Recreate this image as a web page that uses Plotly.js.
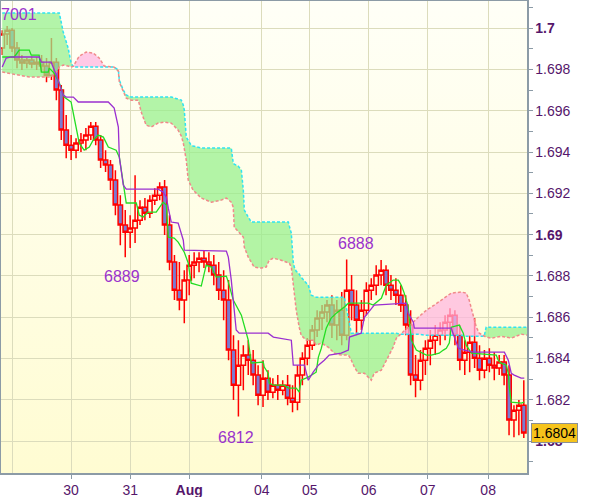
<!DOCTYPE html>
<html>
<head>
<meta charset="utf-8">
<script src="https://cdn.plot.ly/plotly-3.0.1.min.js"></script>
<style>
  html, body { margin: 0; padding: 0; background: #ffffff; }
  #chart { width: 600px; height: 497px; }
</style>
</head>
<body>
<div id="chart"></div>
<script>
// GBP/USD, 2-hour candles with Ichimoku lines.
// Time axis is in hours counted from the start of the window (late 29 Jul).

const open = [1.69903,1.69971,1.69990,1.69903,1.69845,1.69831,1.69845,1.69826,1.69835,1.69816,
  1.69772,1.69835,1.69700,1.69506,1.69433,1.69409,1.69443,1.69458,1.69482,1.69525,
  1.69458,1.69361,1.69337,1.69264,1.69143,1.69046,1.69012,1.69032,1.69070,1.69133,
  1.69104,1.69167,1.69191,1.69230,1.69046,1.68867,1.68731,1.68683,1.68780,1.68852,
  1.68867,1.68886,1.68867,1.68852,1.68804,1.68731,1.68683,1.68441,1.68271,1.68368,
  1.68417,1.68392,1.68320,1.68223,1.68305,1.68237,1.68271,1.68247,1.68271,1.68208,
  1.68189,1.68320,1.68402,1.68465,1.68538,1.68596,1.68625,1.68659,1.68562,1.68634,
  1.68513,1.68731,1.68659,1.68586,1.68634,1.68731,1.68755,1.68804,1.68828,1.68755,
  1.68731,1.68707,1.68659,1.68562,1.68320,1.68295,1.68392,1.68450,1.68489,1.68513,
  1.68538,1.68576,1.68610,1.68513,1.68392,1.68431,1.68479,1.68402,1.68344,1.68402,
  1.68368,1.68354,1.68383,1.68320,1.68102,1.68150,1.68174];

const high = [1.69990,1.70010,1.70000,1.69932,1.69869,1.69855,1.69864,1.69860,1.69869,1.69855,
  1.69952,1.69855,1.69724,1.69579,1.69482,1.69467,1.69492,1.69516,1.69545,1.69545,
  1.69482,1.69409,1.69361,1.69312,1.69191,1.69119,1.69094,1.69288,1.69167,1.69177,
  1.69191,1.69225,1.69254,1.69264,1.69094,1.68901,1.68867,1.68828,1.68901,1.68915,
  1.68915,1.68925,1.68915,1.68901,1.68867,1.68828,1.68780,1.68513,1.68489,1.68465,
  1.68489,1.68441,1.68368,1.68392,1.68344,1.68305,1.68320,1.68295,1.68320,1.68271,
  1.68368,1.68431,1.68499,1.68562,1.68634,1.68659,1.68683,1.68707,1.68683,1.68722,
  1.68880,1.68804,1.68731,1.68683,1.68770,1.68789,1.68852,1.68877,1.68852,1.68804,
  1.68789,1.68755,1.68707,1.68634,1.68417,1.68441,1.68489,1.68538,1.68562,1.68576,
  1.68610,1.68644,1.68634,1.68562,1.68489,1.68513,1.68596,1.68465,1.68441,1.68450,
  1.68431,1.68417,1.68417,1.68368,1.68174,1.68199,1.68295];

const low = [1.69869,1.69918,1.69884,1.69806,1.69797,1.69806,1.69806,1.69797,1.69787,1.69738,
  1.69748,1.69651,1.69458,1.69370,1.69361,1.69370,1.69400,1.69409,1.69458,1.69433,
  1.69322,1.69303,1.69216,1.69094,1.68949,1.68890,1.68935,1.68959,1.69046,1.69070,
  1.69080,1.69143,1.69167,1.68998,1.68828,1.68683,1.68634,1.68571,1.68707,1.68789,
  1.68818,1.68838,1.68818,1.68755,1.68683,1.68586,1.68392,1.68199,1.68120,1.68247,
  1.68320,1.68271,1.68174,1.68165,1.68199,1.68208,1.68199,1.68223,1.68174,1.68140,
  1.68150,1.68271,1.68368,1.68441,1.68504,1.68538,1.68576,1.68499,1.68489,1.68465,
  1.68489,1.68586,1.68513,1.68538,1.68610,1.68683,1.68707,1.68755,1.68707,1.68683,
  1.68659,1.68625,1.68513,1.68271,1.68213,1.68247,1.68320,1.68368,1.68417,1.68465,
  1.68489,1.68513,1.68465,1.68344,1.68320,1.68334,1.68354,1.68295,1.68305,1.68334,
  1.68295,1.68320,1.68271,1.68029,1.68019,1.68029,1.68015];

const close = [1.69971,1.69990,1.69903,1.69845,1.69831,1.69845,1.69826,1.69835,1.69816,1.69772,
  1.69835,1.69700,1.69506,1.69433,1.69409,1.69443,1.69458,1.69482,1.69525,1.69458,
  1.69361,1.69337,1.69264,1.69143,1.69046,1.69012,1.69032,1.69070,1.69133,1.69104,
  1.69167,1.69191,1.69230,1.69046,1.68867,1.68731,1.68683,1.68780,1.68852,1.68867,
  1.68886,1.68867,1.68852,1.68804,1.68731,1.68683,1.68441,1.68271,1.68368,1.68417,
  1.68392,1.68320,1.68223,1.68305,1.68237,1.68271,1.68247,1.68271,1.68208,1.68189,
  1.68320,1.68402,1.68465,1.68538,1.68596,1.68625,1.68659,1.68562,1.68634,1.68513,
  1.68731,1.68659,1.68586,1.68634,1.68731,1.68755,1.68804,1.68828,1.68755,1.68731,
  1.68707,1.68659,1.68562,1.68320,1.68295,1.68392,1.68450,1.68489,1.68513,1.68538,
  1.68576,1.68610,1.68513,1.68392,1.68431,1.68479,1.68402,1.68344,1.68402,1.68368,
  1.68354,1.68383,1.68320,1.68102,1.68150,1.68174,1.68040];

// one candle every two hours
const barHours = close.map((_, i) => i * 2);

// Tenkan-sen (conversion line)
const tenkanHours = [0,4.9,6.9,11.0,11.8,15.0,15.9,18.7,19.1,21.1,23.2,25.2,28.0,31.3,33.3,35.4,37.0,39.0,41.1,43.1,
  46.3,47.6,49.2,50.4,54.5,55.7,57.3,59.3,62.6,65.4,66.7,67.5,69.9,71.5,74.0,75.6,76.8,80.9,82.9,85.0,
  87.0,91.1,91.9,93.9,97.2,100.0,101.2,106.1,106.5,108.1,108.5,110.2,114.6,116.3,119.5,120.7,121.5,124.4,127.6,128.5,
  129.7,131.7,133.7,135.8,139.0,140.7,148.8,150.8,154.1,156.1,158.9,161.0,162.2,163.4,165.0,166.3,168.3,172.4,174.4,177.6,
  179.3,180.5,181.7,182.5,185.8,187.4,188.6,190.7,200.8,201.6,202.8,204.9,205.7,206.1,206.9,211.0,212.2];
const tenkan = [1.69860,1.69860,1.69893,1.69893,1.69869,1.69869,1.69787,1.69787,1.69806,1.69782,1.69734,1.69666,1.69642,1.69443,1.69409,1.69424,1.69458,1.69482,1.69472,1.69424,
  1.69409,1.69375,1.69249,1.69153,1.69153,1.69094,1.69085,1.69109,1.69109,1.69157,1.69143,1.68988,1.68983,1.68964,1.68915,1.68862,1.68765,1.68751,1.68852,1.68843,
  1.68794,1.68799,1.68770,1.68683,1.68610,1.68489,1.68378,1.68383,1.68359,1.68329,1.68281,1.68271,1.68271,1.68257,1.68257,1.68237,1.68295,1.68310,1.68334,1.68407,
  1.68450,1.68547,1.68596,1.68620,1.68649,1.68668,1.68668,1.68659,1.68692,1.68755,1.68780,1.68780,1.68755,1.68717,1.68649,1.68489,1.68441,1.68417,1.68417,1.68426,
  1.68441,1.68450,1.68475,1.68552,1.68562,1.68523,1.68465,1.68426,1.68417,1.68392,1.68378,1.68368,1.68329,1.68262,1.68189,1.68184,1.68189];

// Kijun-sen (base line)
const kijunHours = [0,1.6,3.7,15.0,15.9,19.9,22.0,24.8,26.0,28.9,30.9,43.1,45.5,47.2,47.6,48.4,49.2,50.4,63.4,65.4,
  66.7,67.5,68.7,71.5,73.6,74.0,91.1,91.9,93.1,95.1,96.3,108.1,110.2,117.5,118.3,122.8,124.4,126.4,128.5,130.9,
  132.9,137.8,140.7,141.1,145.9,147.2,150.0,151.2,164.2,165.0,167.1,167.5,182.5,183.7,185.4,187.8,191.5,204.1,205.7,206.9,
  208.1,210.9,212.2];
const kijun = [1.69811,1.69855,1.69860,1.69860,1.69835,1.69835,1.69772,1.69676,1.69666,1.69666,1.69642,1.69642,1.69613,1.69521,1.69375,1.69312,1.69240,1.69220,1.69220,1.69206,
  1.69182,1.69128,1.69061,1.69056,1.68973,1.68925,1.68920,1.68891,1.68780,1.68538,1.68523,1.68523,1.68504,1.68489,1.68368,1.68368,1.68295,1.68334,1.68368,1.68392,
  1.68417,1.68426,1.68441,1.68504,1.68523,1.68600,1.68644,1.68659,1.68668,1.68620,1.68576,1.68547,1.68547,1.68504,1.68450,1.68441,1.68431,1.68431,1.68392,1.68329,
  1.68320,1.68305,1.68305];

// Senkou spans A and B (already shifted forward), on a shared time grid
const cloudHours = [0,11.0,19.9,22.0,23.2,24.8,26.8,28.0,28.9,31.3,34.1,37.0,39.4,41.5,45.5,47.2,47.6,48.4,49.2,50.4,
  52.4,55.3,56.5,58.5,60.6,63.4,65.9,68.7,71.5,72.8,73.6,74.0,74.8,75.6,76.8,77.6,80.9,85.0,89.0,91.1,
  93.1,93.9,94.3,95.9,97.2,98.0,98.4,100.0,101.2,102.4,105.3,107.3,108.5,110.2,113.4,116.3,116.7,117.5,118.3,118.7,
  119.5,120.7,121.5,123.6,124.4,125.6,126.4,127.6,129.7,132.5,135.0,137.8,139.0,140.7,141.9,143.1,144.7,147.2,150.0,151.2,
  154.1,156.9,158.9,160.2,162.2,165.0,169.1,172.4,175.6,179.7,182.5,186.6,188.6,189.8,191.5,192.7,193.9,195.9,196.7,198.8,
  202.8,206.9,211.0,213.8];
const spanA = [1.70073,1.70073,1.70073,1.70073,1.70073,1.69981,1.69903,1.69831,1.69811,1.69811,1.69811,1.69811,1.69811,1.69811,1.69811,1.69797,1.69748,1.69724,1.69700,1.69676,
  1.69666,1.69666,1.69666,1.69666,1.69666,1.69666,1.69666,1.69666,1.69656,1.69651,1.69627,1.69603,1.69472,1.69458,1.69433,1.69429,1.69419,1.69419,1.69419,1.69419,
  1.69419,1.69346,1.69341,1.69332,1.69312,1.69215,1.69119,1.69085,1.69061,1.69061,1.69061,1.69061,1.69061,1.69061,1.69061,1.69061,1.69041,1.69007,1.68867,1.68843,
  1.68823,1.68809,1.68794,1.68765,1.68755,1.68707,1.68702,1.68697,1.68697,1.68697,1.68697,1.68697,1.68697,1.68596,1.68523,1.68523,1.68523,1.68523,1.68523,1.68523,
  1.68523,1.68523,1.68523,1.68523,1.68518,1.68518,1.68518,1.68513,1.68513,1.68513,1.68513,1.68513,1.68508,1.68508,1.68508,1.68508,1.68508,1.68508,1.68552,1.68552,
  1.68552,1.68552,1.68552,1.68552];
const spanB = [1.69787,1.69763,1.69763,1.69787,1.69811,1.69821,1.69816,1.69811,1.69816,1.69864,1.69884,1.69879,1.69855,1.69816,1.69811,1.69792,1.69738,1.69714,1.69690,1.69661,
  1.69651,1.69651,1.69593,1.69530,1.69521,1.69540,1.69545,1.69540,1.69506,1.69477,1.69443,1.69409,1.69361,1.69264,1.69230,1.69215,1.69177,1.69157,1.69167,1.69177,
  1.69157,1.69133,1.69036,1.69012,1.68998,1.68988,1.68939,1.68891,1.68867,1.68843,1.68838,1.68843,1.68876,1.68886,1.68876,1.68867,1.68862,1.68843,1.68765,1.68707,
  1.68634,1.68552,1.68513,1.68489,1.68489,1.68489,1.68489,1.68465,1.68475,1.68455,1.68426,1.68417,1.68417,1.68417,1.68392,1.68359,1.68329,1.68329,1.68295,1.68329,
  1.68344,1.68407,1.68455,1.68499,1.68523,1.68552,1.68600,1.68634,1.68659,1.68692,1.68717,1.68722,1.68717,1.68683,1.68600,1.68552,1.68523,1.68508,1.68504,1.68499,
  1.68508,1.68499,1.68518,1.68513];

// Day ticks on the time axis
const dayHours = [28, 52, 76, 105.5, 125, 149, 173, 197.5];
const dayLabels = ['30', '31', '<b>Aug</b>', '04', '05', '06', '07', '08'];
const dayGridOnly = [4.3];   // 29 Jul, gridline without a label

// Price ticks
const priceTicks = [1.68, 1.682, 1.684, 1.686, 1.688, 1.69, 1.692, 1.694, 1.696, 1.698, 1.7];
const priceLabels = ['<b>1.68</b>', '1.682', '1.684', '1.686', '1.688', '<b>1.69</b>', '1.692', '1.694', '1.696', '1.698', '<b>1.7</b>'];
const priceMinorTicks = [1.679, 1.681, 1.683, 1.685, 1.687, 1.689, 1.691, 1.693, 1.695, 1.697, 1.699, 1.701];

// Swing points labelled with their last four digits
const swingBars = [1, 25, 48, 70];
const swingKinds = ['high', 'low', 'low', 'high'];

// ---------------------------------------------------------------------------

const axisGray = '#8c9ba6';
const gridColor = '#dcdcbc';
const labelColor = '#55166b';

// cloud: fill green where span A is on top, pink where span B is on top
const cloudFloor = spanA.map((a, i) => Math.min(a, spanB[i]));

const traces = [
  { x: cloudHours, y: cloudFloor, type: 'scatter', mode: 'lines', line: { width: 0 }, hoverinfo: 'skip' },
  { x: cloudHours, y: spanA, type: 'scatter', mode: 'lines', line: { width: 0 },
    fill: 'tonexty', fillcolor: 'rgba(150,240,140,0.72)', hoverinfo: 'skip' },
  { x: cloudHours, y: cloudFloor, type: 'scatter', mode: 'lines', line: { width: 0 }, hoverinfo: 'skip' },
  { x: cloudHours, y: spanB, type: 'scatter', mode: 'lines', line: { width: 0 },
    fill: 'tonexty', fillcolor: 'rgba(255,180,225,0.72)', hoverinfo: 'skip' },
  { x: cloudHours, y: spanA, type: 'scatter', mode: 'lines',
    line: { color: '#2ee3f2', width: 1.5, dash: '3px,2px' }, hoverinfo: 'skip' },
  { x: cloudHours, y: spanB, type: 'scatter', mode: 'lines',
    line: { color: '#f08a8a', width: 1.5, dash: '3px,2px' }, hoverinfo: 'skip' },
  { x: barHours, open: open, high: high, low: low, close: close, type: 'candlestick',
    increasing: { line: { color: '#ff0000', width: 1.5 }, fillcolor: 'rgba(255,255,255,0)' },
    decreasing: { line: { color: '#ff0000', width: 1.5 }, fillcolor: '#7b7bd0' },
    whiskerwidth: 0, hoverinfo: 'skip' },
  { x: tenkanHours, y: tenkan, type: 'scatter', mode: 'lines',
    line: { color: '#22dd22', width: 1.3 }, hoverinfo: 'skip' },
  { x: kijunHours, y: kijun, type: 'scatter', mode: 'lines',
    line: { color: '#9a2fd0', width: 1.3 }, hoverinfo: 'skip' }
];

// swing labels, placed just beyond the extreme they name
const swingOffsets = { high: [[-4, 11], [9, 16]], low: [[-3.5, -19.5], [-2, -21.5]] };
let hiCount = 0, loCount = 0;
const annotations = swingBars.map((bar, k) => {
  const kind = swingKinds[k];
  const value = kind === 'high' ? high[bar] : low[bar];
  const off = kind === 'high' ? swingOffsets.high[hiCount++] : swingOffsets.low[loCount++];
  const isFirst = k === 0;
  return {
    x: barHours[bar], y: value, xref: 'x', yref: 'y',
    text: String(Math.round(value * 10000) % 10000),
    showarrow: false, xanchor: isFirst ? 'left' : 'center', yanchor: 'middle',
    xshift: isFirst ? -8 : off[0], yshift: off[1],
    font: { family: 'Liberation Sans, Arial, sans-serif', size: 16, color: '#9a32cc' }
  };
});

// last price tag on the price axis
const lastClose = close[close.length - 1];
annotations.push({
  xref: 'paper', x: 1, xanchor: 'left', xshift: 4,
  yref: 'y', y: lastClose, yanchor: 'middle',
  text: lastClose.toFixed(4), showarrow: false,
  bgcolor: '#f6c41c', bordercolor: '#8a8f95', borderwidth: 1, borderpad: 1,
  font: { family: 'Liberation Sans, Arial, sans-serif', size: 14, color: '#000000' }
});

const bgSvg = "<svg xmlns='http://www.w3.org/2000/svg' width='100' height='100' viewBox='0 0 100 100' preserveAspectRatio='none'>" +
  "<defs><linearGradient id='g' x1='0' y1='0' x2='0' y2='1'>" +
  "<stop offset='0' stop-color='#fffff7'/><stop offset='1' stop-color='#fffcd2'/>" +
  "</linearGradient></defs><rect width='100' height='100' fill='url(#g)'/></svg>";

const layout = {
  width: 600, height: 497,
  margin: { l: 1, r: 73, t: 1, b: 24 },
  paper_bgcolor: '#ffffff',
  plot_bgcolor: 'rgba(0,0,0,0)',
  showlegend: false,
  boxgap: 0.1,
  boxgroupgap: 0,
  font: { family: 'Liberation Sans, Arial, sans-serif', size: 14, color: labelColor },
  xaxis: {
    range: [-0.5, 213.3], fixedrange: true,
    tickmode: 'array', tickvals: dayHours, ticktext: dayLabels,
    ticks: 'outside', ticklen: 4, tickcolor: axisGray,
    showgrid: true, gridcolor: gridColor, gridwidth: 1,
    minor: { tickmode: 'array', tickvals: dayGridOnly, showgrid: true, gridcolor: gridColor, ticks: '' },
    showline: true, linecolor: axisGray, linewidth: 1.5, mirror: true,
    zeroline: false, rangeslider: { visible: false },
    tickfont: { size: 14, color: labelColor }
  },
  yaxis: {
    side: 'right', range: [1.67846, 1.70131], fixedrange: true,
    tickmode: 'array', tickvals: priceTicks, ticktext: priceLabels,
    ticks: 'outside', ticklen: 4, tickcolor: axisGray,
    minor: { tickmode: 'array', tickvals: priceMinorTicks, ticks: 'outside', ticklen: 4, tickcolor: axisGray, showgrid: false },
    showgrid: true, gridcolor: gridColor, gridwidth: 1,
    showline: true, linecolor: axisGray, linewidth: 1.5, mirror: true,
    zeroline: false,
    tickfont: { size: 14, color: labelColor }
  },
  images: [{
    source: 'data:image/svg+xml;charset=utf-8,' + encodeURIComponent(bgSvg),
    xref: 'paper', yref: 'paper', x: 0, y: 1, sizex: 1, sizey: 1,
    xanchor: 'left', yanchor: 'top', sizing: 'stretch', layer: 'below'
  }],
  annotations: annotations
};

Plotly.newPlot('chart', traces, layout, { displayModeBar: false, staticPlot: true });
</script>
</body>
</html>
